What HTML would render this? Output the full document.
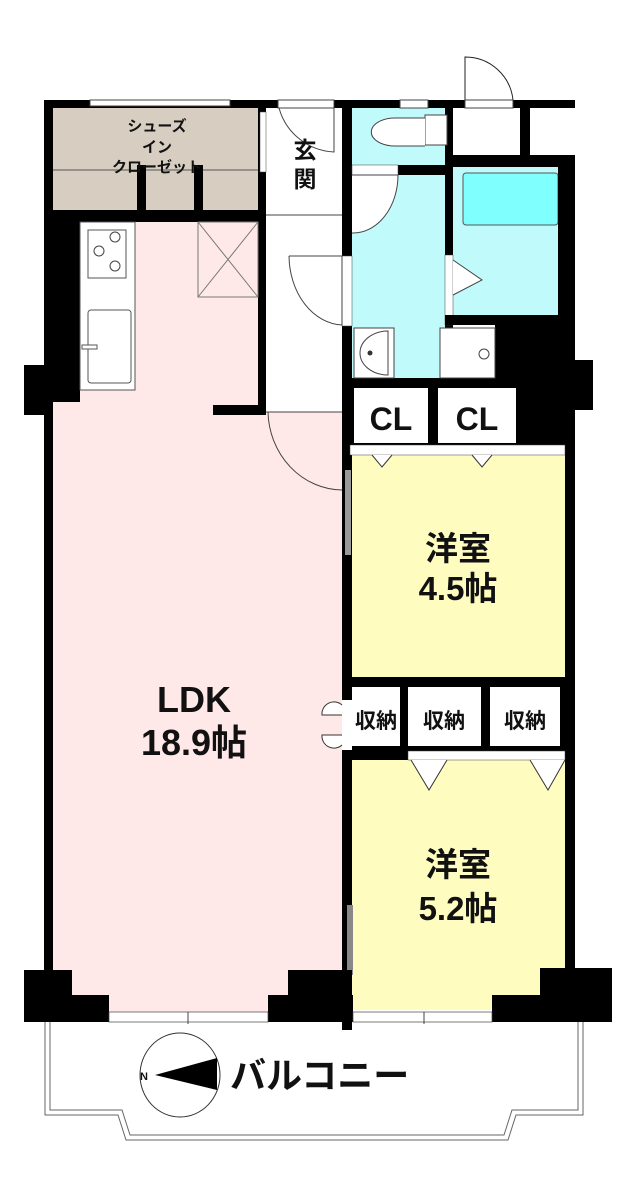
<!DOCTYPE html>
<html><head><meta charset="utf-8"><style>
html,body{margin:0;padding:0;background:#fff;}
svg{display:block;}
text{font-family:"Liberation Sans","Noto Sans CJK JP",sans-serif;font-weight:bold;fill:#111;}
</style></head><body>
<svg width="636" height="1185" viewBox="0 0 636 1185" xmlns="http://www.w3.org/2000/svg">
<!-- room fills -->
<rect x="52" y="108" width="206" height="102" fill="#d8cdc1"/>
<rect x="52" y="222" width="206" height="790" fill="#ffe8e8"/>
<rect x="52" y="412" width="290" height="600" fill="#ffe8e8"/>
<rect x="352" y="108" width="93" height="57" fill="#c0fafa"/>
<rect x="352" y="175" width="93" height="203" fill="#c0fafa"/>
<rect x="452" y="165" width="106" height="150" fill="#c0fafa"/>
<rect x="463" y="173" width="95" height="52" rx="3" fill="#80ffff" stroke="#555" stroke-width="1"/>
<rect x="350" y="455" width="217" height="222" fill="#fffcc0"/>
<rect x="350" y="760" width="217" height="250" fill="#fffcc0"/>
<!-- closet dividers -->
<line x1="52" y1="170" x2="258" y2="170" stroke="#555"/>
<rect x="137" y="165" width="9" height="47" fill="#000"/>
<rect x="194" y="165" width="9" height="47" fill="#000"/>
<!-- walls -->
<rect x="44" y="100" width="531" height="8" fill="#000"/>
<rect x="90" y="100" width="140" height="6" fill="#fff" stroke="#444" stroke-width="1"/>
<rect x="278" y="100" width="56" height="8" fill="#fff" stroke="#444" stroke-width="1"/>
<rect x="400" y="100" width="28" height="8" fill="#fff" stroke="#444" stroke-width="1"/>
<rect x="465" y="100" width="48" height="8" fill="#fff" stroke="#444" stroke-width="1"/>
<path d="M465 100 V57 A48 48 0 0 1 513 100" fill="none" stroke="#222"/>
<line x1="465" y1="57" x2="465" y2="100" stroke="#222"/>
<rect x="44" y="100" width="9" height="920" fill="#000"/>
<rect x="24" y="365" width="29" height="50" fill="#000"/>
<rect x="44" y="210" width="222" height="12" fill="#000"/>
<rect x="52" y="222" width="28" height="180" fill="#000"/>
<rect x="258" y="108" width="8" height="302" fill="#000"/>
<rect x="260" y="112" width="6" height="60" fill="#fff" stroke="#444" stroke-width="0.5"/>
<rect x="213" y="405" width="53" height="10" fill="#000"/>
<line x1="266" y1="215" x2="342" y2="215" stroke="#444"/>
<line x1="266" y1="412" x2="342" y2="412" stroke="#444"/>
<rect x="342" y="100" width="10" height="930" fill="#000"/>
<rect x="342" y="256" width="10" height="70" fill="#fff" stroke="#444" stroke-width="0.5"/>
<rect x="445" y="100" width="8" height="235" fill="#000"/>
<rect x="352" y="165" width="93" height="10" fill="#000"/>
<rect x="352" y="165" width="46" height="10" fill="#fff" stroke="#444" stroke-width="0.5"/>
<rect x="445" y="255" width="8" height="70" fill="#fff" stroke="#444" stroke-width="0.5"/>
<rect x="520" y="100" width="10" height="65" fill="#000"/>
<rect x="453" y="155" width="122" height="12" fill="#000"/>
<rect x="558" y="155" width="17" height="160" fill="#000"/>
<rect x="445" y="315" width="130" height="10" fill="#000"/>
<rect x="495" y="315" width="80" height="130" fill="#000"/>
<rect x="565" y="155" width="10" height="850" fill="#000"/>
<rect x="575" y="360" width="18" height="50" fill="#000"/>
<rect x="342" y="378" width="233" height="77" fill="#000"/>
<rect x="354" y="388" width="74" height="55" fill="#fff"/>
<rect x="438" y="388" width="78" height="55" fill="#fff"/>
<rect x="350" y="445" width="215" height="10" fill="#fff" stroke="#444" stroke-width="0.5"/>
<path d="M372 455 l10 12 l10 -12 M472 455 l10 12 l10 -12" fill="#fff" stroke="#333"/>
<rect x="342" y="677" width="233" height="83" fill="#000"/>
<rect x="352" y="687" width="48" height="59" fill="#fff"/>
<rect x="408" y="687" width="73" height="59" fill="#fff"/>
<rect x="490" y="687" width="70" height="59" fill="#fff"/>
<rect x="408" y="751" width="157" height="9" fill="#fff" stroke="#444" stroke-width="0.5"/>
<path d="M411 760 l18 30 l18 -30 M530 760 l18 30 l17 -30" fill="#fff" stroke="#333"/>
<rect x="342" y="700" width="10" height="50" fill="#fff"/>
<path d="M342 705 a12 12 0 0 0 -20 10 h20 M342 745 a12 12 0 0 1 -20 -10 h20" fill="#fff" stroke="#333"/>
<rect x="345" y="470" width="6" height="85" fill="#999"/>
<rect x="347" y="905" width="6" height="70" fill="#888"/>
<!-- bottom -->
<rect x="24" y="970" width="48" height="52" fill="#000"/>
<rect x="24" y="995" width="85" height="27" fill="#000"/>
<rect x="268" y="995" width="85" height="27" fill="#000"/>
<rect x="288" y="970" width="64" height="30" fill="#000"/>
<rect x="492" y="995" width="120" height="27" fill="#000"/>
<rect x="540" y="968" width="72" height="54" fill="#000"/>
<rect x="109" y="1012" width="159" height="10" fill="#fff" stroke="#444" stroke-width="0.7"/>
<rect x="353" y="1012" width="139" height="10" fill="#fff" stroke="#444" stroke-width="0.7"/>
<line x1="188" y1="1012" x2="188" y2="1024" stroke="#444"/>
<line x1="424" y1="1012" x2="424" y2="1024" stroke="#444"/>
<path d="M50 1022 V1110 H122 L130 1135 H504 L512 1110 H578 V1022" fill="none" stroke="#666" stroke-width="1"/>
<path d="M45 1022 V1115 H118 L126 1140 H508 L516 1115 H583 V1022" fill="none" stroke="#666" stroke-width="1"/>
<!-- kitchen -->
<rect x="80" y="222" width="55" height="168" fill="#fff" stroke="#555"/>
<rect x="88" y="230" width="38" height="48" fill="#fff" stroke="#555"/>
<circle cx="115" cy="237" r="5" fill="none" stroke="#444"/>
<circle cx="99" cy="251" r="5" fill="none" stroke="#444"/>
<circle cx="115" cy="266" r="5" fill="none" stroke="#444"/>
<rect x="88" y="310" width="43" height="73" rx="3" fill="#fff" stroke="#555"/>
<rect x="82" y="345" width="15" height="4" fill="#fff" stroke="#555"/>
<rect x="198" y="222" width="60" height="75" fill="none" stroke="#777"/>
<path d="M198 222 L258 297 M258 222 L198 297" stroke="#777"/>
<!-- doors -->
<path d="M279 108 A60 60 0 0 0 334 152 V108" fill="none" stroke="#444"/>
<path d="M289 256 H342 V325 A55 70 0 0 1 289 256" fill="#fff" stroke="#444"/>
<path d="M268 412 A75 80 0 0 0 342 490" fill="none" stroke="#444"/>
<path d="M352 175 H398 A45 58 0 0 1 352 233" fill="#fff" stroke="#444"/>
<path d="M453 295 L482 280 L453 260" fill="#fff" stroke="#444"/>
<!-- toilet -->
<path d="M425 115 h22 v30 h-22 z" fill="#fff" stroke="#444"/>
<path d="M425 118 H395 A22 13 0 0 0 395 146 H425" fill="#fff" stroke="#444"/>
<!-- sink -->
<rect x="354" y="328" width="40" height="50" fill="#fff" stroke="#444"/>
<path d="M388 331 A28 22 0 0 0 388 375 Z" fill="#fff" stroke="#444"/>
<circle cx="370" cy="353" r="2.5" fill="#333"/>
<rect x="440" y="328" width="55" height="50" fill="#fff" stroke="#444"/>
<circle cx="484" cy="354" r="5" fill="none" stroke="#444"/>
<!-- compass -->
<ellipse cx="180" cy="1075" rx="40" ry="42" fill="#fff" stroke="#333"/>
<polygon points="155,1075 217,1058 217,1090" fill="#000"/>
<text x="140" y="1080" font-size="11">N</text>
<!-- labels -->
<text x="157" y="131" font-size="15" text-anchor="middle">シューズ</text>
<text x="157" y="152" font-size="15" text-anchor="middle">イン</text>
<text x="157" y="172" font-size="15" text-anchor="middle">クローゼット</text>
<text x="305" y="158" font-size="23" text-anchor="middle">玄</text>
<text x="305" y="187" font-size="23" text-anchor="middle">関</text>
<text x="391" y="430" font-size="32" text-anchor="middle">CL</text>
<text x="477" y="430" font-size="32" text-anchor="middle">CL</text>
<text x="458" y="560" font-size="33" text-anchor="middle">洋室</text>
<text x="458" y="600" font-size="33" text-anchor="middle">4.5帖</text>
<text x="376" y="728" font-size="21" text-anchor="middle">収納</text>
<text x="444" y="728" font-size="21" text-anchor="middle">収納</text>
<text x="525" y="728" font-size="21" text-anchor="middle">収納</text>
<text x="194" y="712" font-size="36" text-anchor="middle">LDK</text>
<text x="194" y="755" font-size="36" text-anchor="middle">18.9帖</text>
<text x="458" y="876" font-size="33" text-anchor="middle">洋室</text>
<text x="458" y="920" font-size="33" text-anchor="middle">5.2帖</text>
<text x="230" y="1088" font-size="36">バルコニー</text>
</svg>
</body></html>
